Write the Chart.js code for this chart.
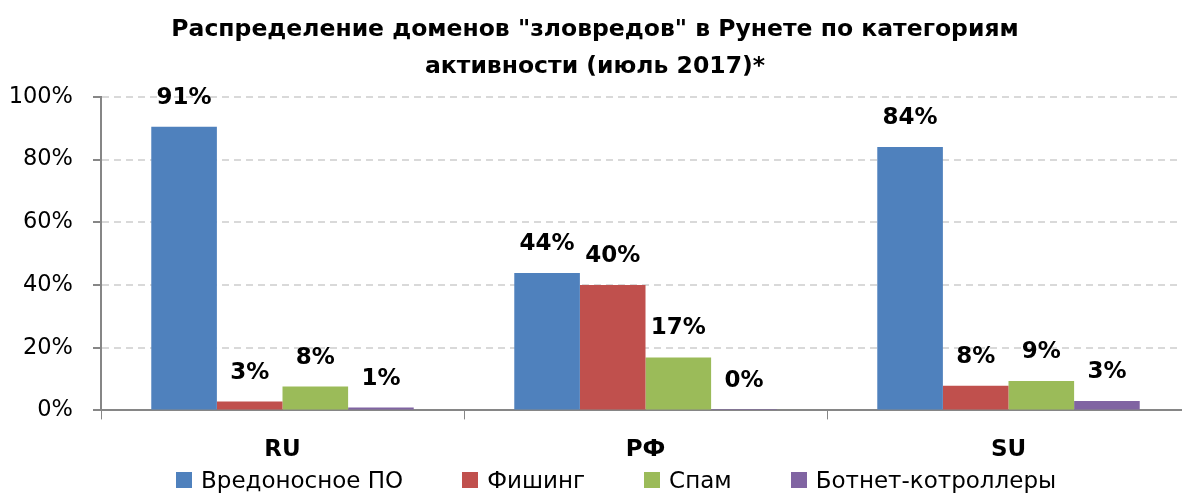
<!DOCTYPE html>
<html>
<head>
<meta charset="utf-8">
<script src="https://cdn.jsdelivr.net/npm/chart.js@4.4.1/dist/chart.umd.min.js"></script>
<style>
    html, body { margin: 0; padding: 0; background: #fff; overflow: hidden; }
    #wrap { position: relative; width: 1182px; height: 493px; overflow: hidden; }
    #legend { position: absolute; left: 176px; top: 467px; display: flex; align-items: center;
              font: 23px 'DejaVu Sans', sans-serif; color: #000; white-space: nowrap; }
    #legend .item { display: flex; align-items: center; margin-right: 59px; }
    #legend .box { width: 16px; height: 16px; margin-right: 9px; }
</style>
</head>
<body>
<div id="wrap">
    <canvas id="domainsChart" width="1192" height="493"></canvas>
    <div id="legend"></div>
</div>
<script>
    // data, percent
    var categories = ["RU", "РФ", "SU"];
    var seriesNames = ["Вредоносное ПО", "Фишинг", "Спам", "Ботнет-котроллеры"];
    var malwareValues = [90.5, 43.8, 84.0];
    var phishingValues = [2.8, 40.0, 7.9];
    var spamValues = [7.6, 16.9, 9.4];
    var botnetValues = [0.9, 0.1, 3.0];
    var seriesColors = ["#4f81bd", "#c0504d", "#9bbb59", "#8064a2"];
    var yTickValues = [0, 20, 40, 60, 80, 100];

    var fontFamily = "'DejaVu Sans', sans-serif";

    // draws the bold percent label above every bar
    var barLabels = {
        id: "barLabels",
        afterDatasetsDraw: function (chart) {
            var ctx = chart.ctx;
            ctx.save();
            ctx.font = "bold 23px " + fontFamily;
            ctx.fillStyle = "#000";
            ctx.textAlign = "center";
            ctx.textBaseline = "middle";
            chart.data.datasets.forEach(function (ds, i) {
                chart.getDatasetMeta(i).data.forEach(function (bar, j) {
                    ctx.fillText(Math.round(ds.data[j]) + "%", bar.x, bar.y - 29);
                });
            });
            ctx.restore();
        }
    };

    var allValues = [malwareValues, phishingValues, spamValues, botnetValues];
    var datasets = seriesNames.map(function (name, i) {
        return {
            label: name,
            data: allValues[i],
            backgroundColor: seriesColors[i],
            borderWidth: 0,
            categoryPercentage: 0.723,
            barPercentage: 1.0
        };
    });

    // legend as plain html, items spaced like the original
    var legendEl = document.getElementById("legend");
    seriesNames.forEach(function (name, i) {
        var item = document.createElement("span");
        item.className = "item";
        var box = document.createElement("span");
        box.className = "box";
        box.style.background = seriesColors[i];
        item.appendChild(box);
        item.appendChild(document.createTextNode(name));
        legendEl.appendChild(item);
    });

    var ctx = document.getElementById("domainsChart").getContext("2d");
    new Chart(ctx, {
        type: "bar",
        data: { labels: categories, datasets: datasets },
        plugins: [barLabels],
        options: {
            responsive: false,
            animation: false,
            layout: { padding: { left: 0, right: 2, top: 0, bottom: 12 } },
            plugins: {
                title: {
                    display: true,
                    text: ["Распределение доменов \"зловредов\" в Рунете по категориям", "активности (июль 2017)*"],
                    color: "#000",
                    font: { family: fontFamily, size: 23.5, weight: "bold", lineHeight: 1.55 },
                    padding: { top: 12, bottom: 12 }
                },
                legend: { display: false },
                tooltip: { enabled: false }
            },
            scales: {
                x: {
                    grid: {
                        drawOnChartArea: false,
                        drawTicks: true,
                        tickLength: 9,
                        tickColor: "#868686",
                        offset: true
                    },
                    border: { color: "#868686", width: 2 },
                    ticks: {
                        color: "#000",
                        font: { family: fontFamily, size: 23, weight: "bold" },
                        padding: 17
                    }
                },
                y: {
                    min: 0,
                    max: 100,
                    afterBuildTicks: function (axis) {
                        axis.ticks = yTickValues.map(function (v) { return { value: v }; });
                    },
                    afterFit: function (axis) {
                        axis.width = 101;
                    },
                    grid: {
                        color: "#d9d9d9",
                        lineWidth: 2,
                        tickColor: "#868686",
                        tickLength: 8,
                        tickBorderDash: []
                    },
                    border: { color: "#868686", width: 2, dash: [7, 5] },
                    ticks: {
                        color: "#000",
                        font: { family: fontFamily, size: 22.5 },
                        padding: 20,
                        callback: function (v) { return v + "%"; }
                    }
                }
            }
        }
    });
</script>
</body>
</html>
